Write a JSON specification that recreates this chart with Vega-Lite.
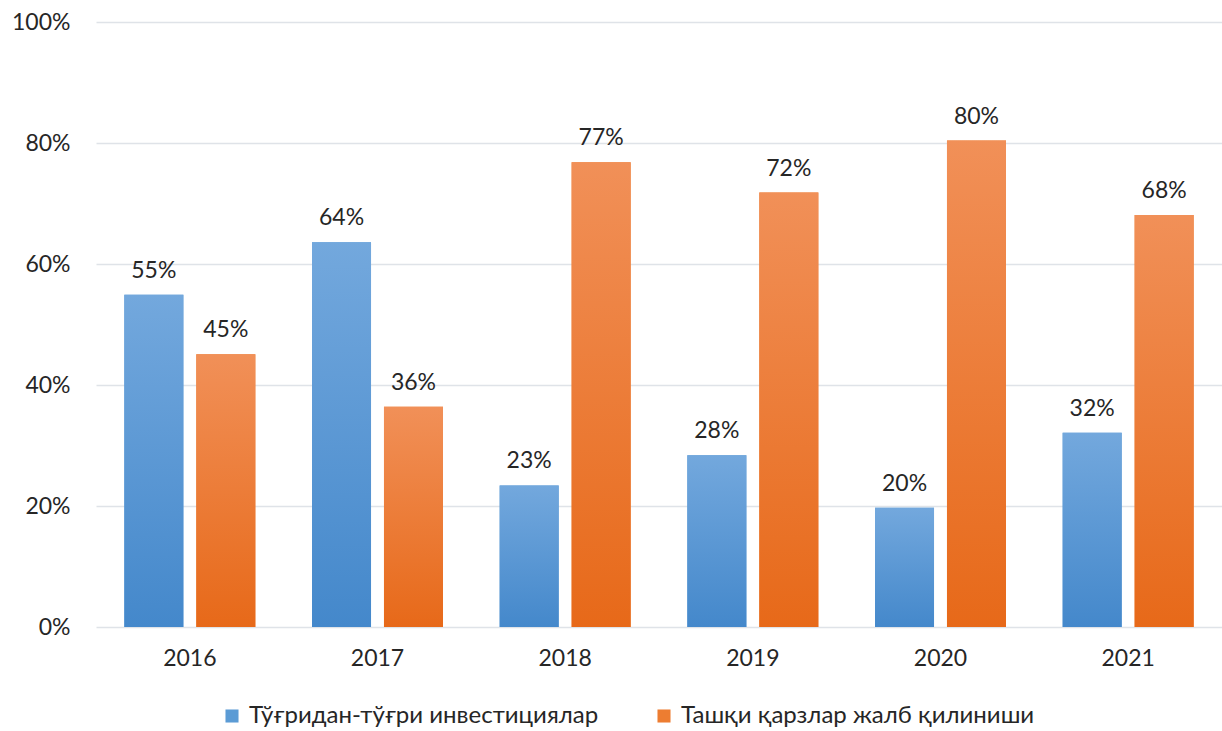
{
  "$schema": "https://vega.github.io/schema/vega-lite/v6.json",
  "autosize": {"type": "none"},
  "width": 1126,
  "height": 605,
  "padding": {"left": 96, "top": 22, "right": 0, "bottom": 104},
  "background": "white",
  "config": {
    "view": {"stroke": null},
    "font": "Lato",
    "axis": {"labelFont": "Lato", "labelFontSize": 23, "labelColor": "#262626"},
    "legend": {"labelFont": "Lato", "labelFontSize": 24, "labelColor": "#262626"}
  },
  "data": {
    "values": [
      {"year": "2016", "series": "Тўғридан-тўғри инвестициялар", "value": 0.549},
      {"year": "2016", "series": "Ташқи қарзлар жалб қилиниши", "value": 0.451},
      {"year": "2017", "series": "Тўғридан-тўғри инвестициялар", "value": 0.636},
      {"year": "2017", "series": "Ташқи қарзлар жалб қилиниши", "value": 0.364},
      {"year": "2018", "series": "Тўғридан-тўғри инвестициялар", "value": 0.234},
      {"year": "2018", "series": "Ташқи қарзлар жалб қилиниши", "value": 0.768},
      {"year": "2019", "series": "Тўғридан-тўғри инвестициялар", "value": 0.284},
      {"year": "2019", "series": "Ташқи қарзлар жалб қилиниши", "value": 0.718},
      {"year": "2020", "series": "Тўғридан-тўғри инвестициялар", "value": 0.197},
      {"year": "2020", "series": "Ташқи қарзлар жалб қилиниши", "value": 0.804},
      {"year": "2021", "series": "Тўғридан-тўғри инвестициялар", "value": 0.321},
      {"year": "2021", "series": "Ташқи қарзлар жалб қилиниши", "value": 0.681}
    ]
  },
  "encoding": {
    "x": {
      "field": "year", "type": "nominal", "title": null,
      "scale": {"paddingInner": 0.302, "paddingOuter": 0.151},
      "axis": {"labelAngle": 0, "domain": false, "ticks": false, "labelPadding": 20, "grid": false}
    },
    "xOffset": {
      "field": "series", "type": "nominal",
      "sort": ["Тўғридан-тўғри инвестициялар", "Ташқи қарзлар жалб қилиниши"],
      "scale": {"paddingInner": 0.18, "paddingOuter": 0}
    },
    "y": {
      "field": "value", "type": "quantitative", "title": null,
      "scale": {"domain": [0, 1], "nice": false},
      "axis": {
        "values": [0, 0.2, 0.4, 0.6, 0.8, 1], "format": ".0%",
        "domain": false, "ticks": false, "labelPadding": 26,
        "grid": true, "gridColor": "#dfe3e8", "gridWidth": 1.5
      }
    }
  },
  "layer": [
    {
      "mark": {"type": "bar"},
      "encoding": {
        "color": {
          "field": "series", "type": "nominal",
          "sort": ["Тўғридан-тўғри инвестициялар", "Ташқи қарзлар жалб қилиниши"],
          "scale": {"domain": ["Тўғридан-тўғри инвестициялар", "Ташқи қарзлар жалб қилиниши"], "range": ["#5b9bd5", "#ed7d31"]},
          "legend": {
            "title": null, "orient": "none", "direction": "horizontal",
            "legendX": 124, "legendY": 682, "labelLimit": 0,
            "symbolType": "square", "symbolSize": 170, "symbolStrokeWidth": 0,
            "columnPadding": 53, "labelOffset": 5
          }
        }
      }
    },
    {
      "transform": [{"filter": "datum.series == 'Тўғридан-тўғри инвестициялар'"}],
      "mark": {
        "type": "bar",
        "fill": {
          "gradient": "linear", "x1": 0, "y1": 0, "x2": 0, "y2": 1,
          "stops": [{"offset": 0, "color": "#73a8dd"}, {"offset": 1, "color": "#4488cb"}]
        }
      }
    },
    {
      "transform": [{"filter": "datum.series == 'Ташқи қарзлар жалб қилиниши'"}],
      "mark": {
        "type": "bar",
        "fill": {
          "gradient": "linear", "x1": 0, "y1": 0, "x2": 0, "y2": 1,
          "stops": [{"offset": 0, "color": "#f19058"}, {"offset": 1, "color": "#e76919"}]
        }
      }
    },
    {
      "mark": {"type": "text", "baseline": "alphabetic", "dy": -17, "fontSize": 23, "color": "#262626", "font": "Lato"},
      "encoding": {
        "text": {"field": "value", "type": "quantitative", "format": ".0%"}
      }
    }
  ]
}
